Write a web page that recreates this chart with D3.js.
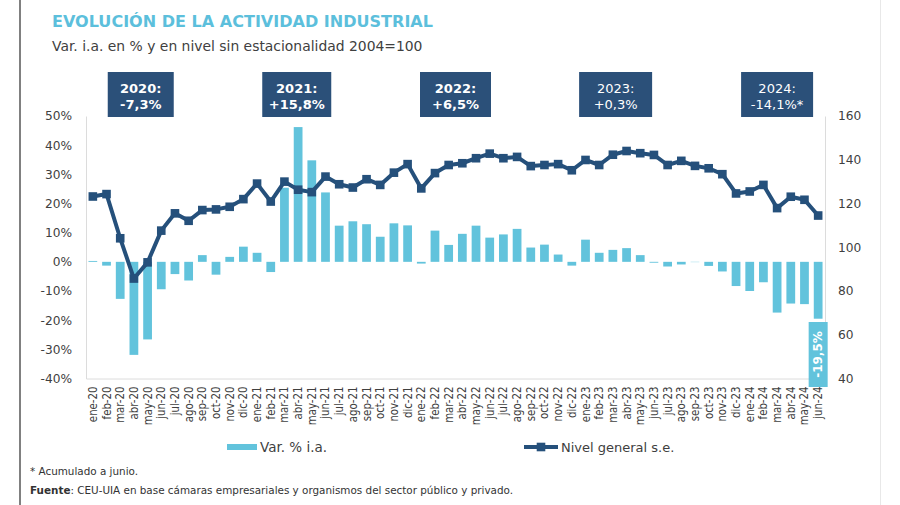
<!DOCTYPE html>
<html><head><meta charset="utf-8">
<script src="https://cdn.jsdelivr.net/npm/d3@7"></script>
<style>html,body{margin:0;padding:0;background:#fff;} svg{display:block;font-family:"DejaVu Sans",Verdana,sans-serif;}</style>
</head><body><svg id="c" width="900" height="505"></svg>
<script>
const months = ["ene-20","feb-20","mar-20","abr-20","may-20","jun-20","jul-20","ago-20","sep-20","oct-20","nov-20","dic-20",
"ene-21","feb-21","mar-21","abr-21","may-21","jun-21","jul-21","ago-21","sep-21","oct-21","nov-21","dic-21",
"ene-22","feb-22","mar-22","abr-22","may-22","jun-22","jul-22","ago-22","sep-22","oct-22","nov-22","dic-22",
"ene-23","feb-23","mar-23","abr-23","may-23","jun-23","jul-23","ago-23","sep-23","oct-23","nov-23","dic-23",
"ene-24","feb-24","mar-24","abr-24","may-24","jun-24"];
const varIA = [0.3,-1.3,-12.7,-31.9,-26.6,-9.4,-4.2,-6.4,2.3,-4.4,1.7,5.2,
3.1,-3.5,25.4,46.2,34.8,23.8,12.4,13.9,12.9,8.6,13.2,12.5,
-0.6,10.7,5.8,9.6,12.4,8.3,9.4,11.3,4.9,5.9,2.5,-1.3,
7.6,3.1,4.1,4.7,2.3,-0.3,-1.6,-0.9,-0.1,-1.4,-3.3,-8.3,
-10.0,-7.0,-17.4,-14.3,-14.5,-19.5];
const nivel = [123.2,124.3,104.1,85.7,93.1,107.6,115.5,112.1,117.0,117.3,118.5,122.0,
129.1,120.9,130.0,126.3,125.2,132.3,128.8,127.3,131.1,128.5,134.1,138.0,
126.9,133.9,137.6,138.4,140.7,142.8,140.7,141.3,137.1,137.6,138.0,135.2,
139.9,137.6,142.3,144.0,143.0,142.2,137.6,139.5,137.2,136.1,133.4,124.6,
125.5,128.5,117.9,123.1,121.7,114.5];
const leftTicks = [-40,-30,-20,-10,0,10,20,30,40,50];
const rightTicks = [40,60,80,100,120,140,160];
const yearLabels = ["2020:","2021:","2022:","2023:","2024:"];
const yearValues = ["-7,3%","+15,8%","+6,5%","+0,3%","-14,1%*"];
const lastLabel = "-19,5%";

const C_BAR = "#62c3dc", C_LINE = "#25507b", C_BOX = "#2b5079", C_TXT = "#404040";
const svg = d3.select("#c");

// frame
svg.append("line").attr("x1",20).attr("x2",20).attr("y1",0).attr("y2",505).attr("stroke","#808080").attr("stroke-width",2);
svg.append("line").attr("x1",880.5).attr("x2",880.5).attr("y1",0).attr("y2",505).attr("stroke","#e8e8e8").attr("stroke-width",1);

// titles
svg.append("text").attr("x",52).attr("y",27).attr("font-weight","bold").attr("font-size",16.5)
  .attr("fill","#5cbfdc").attr("textLength",381).attr("lengthAdjust","spacingAndGlyphs")
  .text("EVOLUCIÓN DE LA ACTIVIDAD INDUSTRIAL");
svg.append("text").attr("x",52).attr("y",51).attr("font-size",13.9).attr("fill",C_TXT)
  .text("Var. i.a. en % y en nivel sin estacionalidad 2004=100");

const x = d3.scaleBand().domain(months).range([86,825]).paddingInner(0.36).paddingOuter(0.18);
const yL = d3.scaleLinear().domain([-40,50]).range([378.5,116]);
const yR = d3.scaleLinear().domain([40,160]).range([378.5,116]);
const cx = m => x(m) + x.bandwidth()/2;

// axes
const gL = svg.append("g").attr("transform","translate(86,0)")
  .call(d3.axisLeft(yL).tickValues(leftTicks).tickSize(0).tickPadding(14).tickFormat(d=>d+"%"));
const gR = svg.append("g").attr("transform","translate(825,0)")
  .call(d3.axisRight(yR).tickValues(rightTicks).tickSize(0).tickPadding(13));
const gB = svg.append("g").attr("transform","translate(0,378.5)")
  .call(d3.axisBottom(x).tickSize(0).tickSizeOuter(0));
[gL,gR,gB].forEach(g=>{
  g.select(".domain").attr("stroke","#dcdcdc").attr("stroke-width",1);
  g.selectAll("text").attr("fill",C_TXT).attr("font-family","DejaVu Sans, Verdana, sans-serif");
});
gL.selectAll("text").attr("font-size",12.2);
gR.selectAll("text").attr("font-size",12.2);
gB.selectAll("text").attr("font-size",10.2).attr("x",0).attr("y",0).attr("dy",0)
  .attr("text-anchor","end").attr("transform","translate(4,8) scale(1.2,1) rotate(-90)");

// bars
svg.append("g").selectAll("rect").data(varIA).join("rect")
  .attr("x",(d,i)=>x(months[i])).attr("width",x.bandwidth())
  .attr("y",d=>yL(Math.max(0,d))).attr("height",d=>Math.abs(yL(d)-yL(0)))
  .attr("fill",C_BAR);

// line
const line = d3.line().x((d,i)=>cx(months[i])).y(d=>yR(d));
svg.append("path").datum(nivel).attr("d",line).attr("fill","none")
  .attr("stroke",C_LINE).attr("stroke-width",4).attr("stroke-linejoin","round");
svg.append("g").selectAll("rect").data(nivel).join("rect")
  .attr("x",(d,i)=>cx(months[i])-4.3).attr("y",d=>yR(d)-4.3)
  .attr("width",8.6).attr("height",8.6).attr("fill",C_LINE);

// year boxes
const step = x.step();
const boxU = [4.0,15.4,27.0,38.7,50.5];
const boxW = [66,69,71,73,72];
yearLabels.forEach((lab,i)=>{
  const c = 86 + step*boxU[i];
  const g = svg.append("g");
  g.append("rect").attr("x",c-boxW[i]/2).attr("y",72).attr("width",boxW[i]).attr("height",45).attr("fill",C_BOX);
  const fw = i<3 ? "bold" : "normal";
  g.append("text").attr("x",c).attr("y",93).attr("text-anchor","middle").attr("fill","#fff")
    .attr("font-size",13).attr("font-weight",fw).text(lab);
  g.append("text").attr("x",c).attr("y",109).attr("text-anchor","middle").attr("fill","#fff")
    .attr("font-size",13).attr("font-weight",fw).text(yearValues[i]);
});

// last value label
const lastM = months[months.length-1];
svg.append("rect").attr("x",cx(lastM)-9.5).attr("y",322).attr("width",19).attr("height",65).attr("fill",C_BAR);
svg.append("text").attr("transform",`translate(${cx(lastM)},354.5) rotate(-90)`)
  .attr("text-anchor","middle").attr("dy","0.36em").attr("fill","#fff").attr("font-weight","bold")
  .attr("font-size",12).text(lastLabel);

// legend
svg.append("rect").attr("x",227).attr("y",444).attr("width",30).attr("height",6).attr("fill",C_BAR);
svg.append("text").attr("x",260).attr("y",452).attr("font-size",13.5).attr("fill",C_TXT).text("Var. % i.a.");
svg.append("line").attr("x1",524).attr("x2",558).attr("y1",447).attr("y2",447).attr("stroke",C_LINE).attr("stroke-width",4);
svg.append("rect").attr("x",536.7).attr("y",442.7).attr("width",8.6).attr("height",8.6).attr("fill",C_LINE);
svg.append("text").attr("x",561).attr("y",452).attr("font-size",13).attr("fill",C_TXT).text("Nivel general s.e.");

// footer
svg.append("text").attr("x",30).attr("y",475).attr("font-size",10.4).attr("fill","#333").text("* Acumulado a junio.");
const f = svg.append("text").attr("x",30).attr("y",494).attr("font-size",10.4).attr("fill","#333");
f.append("tspan").attr("font-weight","bold").text("Fuente");
f.append("tspan").text(": CEU-UIA en base cámaras empresariales y organismos del sector público y privado.");
</script></body></html>
